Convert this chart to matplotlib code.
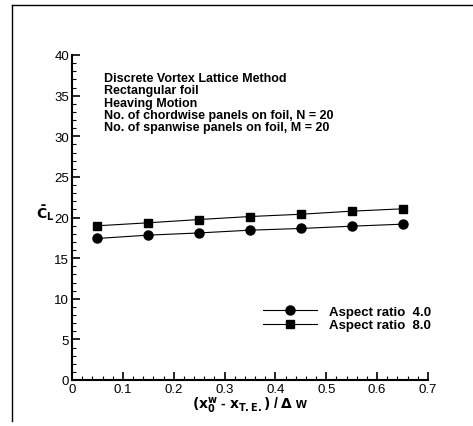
import matplotlib
matplotlib.use("Agg")
import matplotlib.pyplot as plt
from matplotlib.lines import Line2D
from matplotlib.ticker import MultipleLocator

plt.rcParams['font.family'] = ['Liberation Sans', 'DejaVu Sans']

x_vals = [0.05, 0.15, 0.25, 0.35, 0.45, 0.55, 0.65]
ar4 = [17.42, 17.83, 18.10, 18.44, 18.65, 18.93, 19.18]
ar8 = [18.98, 19.35, 19.75, 20.12, 20.40, 20.78, 21.07]
labels = ["Aspect ratio  4.0", "Aspect ratio  8.0"]
info_lines = [
    "Discrete Vortex Lattice Method",
    "Rectangular foil",
    "Heaving Motion",
    "No. of chordwise panels on foil, N = 20",
    "No. of spanwise panels on foil, M = 20",
]
x_ticks = [0, 0.1, 0.2, 0.3, 0.4, 0.5, 0.6, 0.7]
y_ticks = [0, 5, 10, 15, 20, 25, 30, 35, 40]

W, H = 473, 427
fig = plt.figure(figsize=(W / 100, H / 100), dpi=100)
ax = fig.add_axes([72 / W, 1 - 381 / H, (428 - 72) / W, (381 - 56) / H])

ax.plot(x_vals, ar4, color='black', lw=0.8, marker='o', ms=6.5, label=labels[0])
ax.plot(x_vals, ar8, color='black', lw=0.8, marker='s', ms=5.5, label=labels[1])

ax.set_xlim(0, 0.7)
ax.set_ylim(0, 40)
ax.set_xticks(x_ticks)
ax.set_xticklabels(["0"] + [f"{v:.1f}" for v in x_ticks[1:]])
ax.set_yticks(y_ticks)
ax.xaxis.set_minor_locator(MultipleLocator(0.02))
ax.yaxis.set_minor_locator(MultipleLocator(1))
ax.tick_params(which='major', direction='in', length=6, width=1.2, labelsize=9.5, pad=2)
ax.tick_params(which='minor', direction='in', length=3, width=0.8)
ax.spines['top'].set_visible(False)
ax.spines['right'].set_visible(False)
ax.spines['left'].set_linewidth(1.5)
ax.spines['bottom'].set_linewidth(1.5)

ax.set_xlabel(r"$\mathbf{(x_0^w}$ - $\mathbf{x_{T.E.})}$ / $\mathbf{\Delta}$ w",
              fontsize=10, fontweight='bold', labelpad=0)
fig.text(36 / W, 1 - 219 / H, r"$\mathbf{\bar{C}_L}$", fontsize=10, ha='left', va='baseline')

ys = [82, 94, 107, 119, 131]
for t, yy in zip(info_lines, ys):
    fig.text(104 / W, 1 - yy / H, t, fontsize=9, fontweight='bold', ha='left', va='baseline')

leg = ax.legend(loc='upper left', bbox_to_anchor=((251 - 72) / (428 - 72), 1 - (295 - 56) / (381 - 56)),
                frameon=False, handlelength=4.1, handletextpad=0.9, labelspacing=0.08,
                prop={'weight': 'bold', 'size': 9.5})

fig.add_artist(Line2D([12 / W, 1], [1 - 6 / H, 1 - 6 / H], color='black', lw=1.0, transform=fig.transFigure))
fig.add_artist(Line2D([12 / W, 12 / W], [1 - 6 / H, 1 - 422 / H], color='black', lw=1.0, transform=fig.transFigure))

fig.savefig("out.png", dpi=100)
